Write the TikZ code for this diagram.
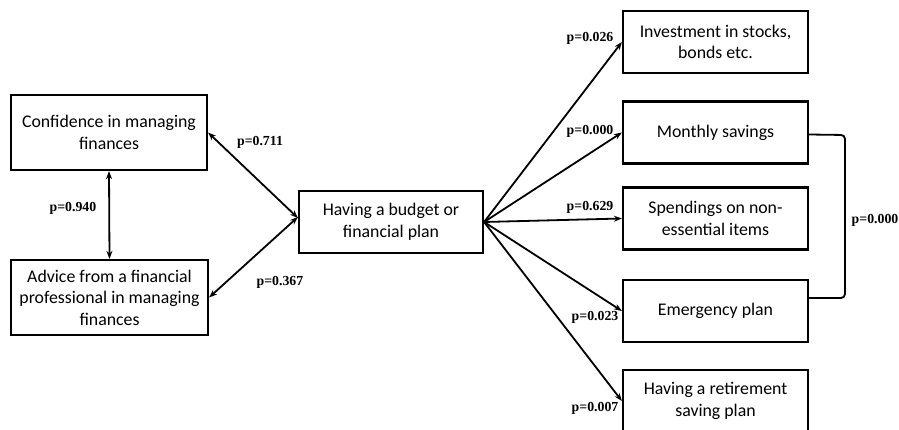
\documentclass[tikz,border=0pt]{standalone}
\usepackage{fontspec}
\setmainfont{Liberation Serif}
\newfontfamily\boxfont{Carlito}
\usetikzlibrary{arrows.meta}
\tikzset{
  varbox/.style={draw, line width=2.2pt, align=center, inner sep=0pt,
    minimum width=185pt, minimum height=62pt,
    font=\boxfont\fontsize{17.8}{21.5}\selectfont},
  link/.style={line width=1.8pt, -{Stealth[length=8pt,width=6pt]}},
  duallink/.style={line width=1.8pt, {Stealth[length=8pt,width=6pt]}-{Stealth[length=8pt,width=6pt]}},
  pval/.style={font=\bfseries\fontsize{13.8}{16}\selectfont, inner sep=0pt}
}
\begin{document}
\begin{tikzpicture}[x=1pt,y=-1pt]
\useasboundingbox (0,0) rectangle (899,430);

% predictors
\node[varbox, minimum width=196pt, minimum height=75pt] (conf) at (109,132.5)
  {Confidence in managing\\finances};
\node[varbox, minimum width=197pt, minimum height=75pt] (advice) at (109.5,297.5)
  {Advice from a financial\\professional in managing\\finances};

% mediator
\node[varbox, minimum width=184pt] (budget) at (391,222)
  {Having a budget or\\financial plan};

% outcomes
\node[varbox] (invest) at (715.5,42)    {Investment in stocks,\\bonds etc.};
\node[varbox] (monthly) at (715.5,132.5) {Monthly savings};
\node[varbox] (spend) at (715.5,218.5)  {Spendings on non-\\essential items};
\node[varbox] (emerg) at (715.5,311)    {Emergency plan};
\node[varbox] (retire) at (715.5,401)   {Having a retirement\\saving plan};

% links between predictors and mediator
\draw[duallink] (conf.south) -- (advice.north);
\draw[duallink] (conf.east) -- ([yshift=4pt]budget.west);
\draw[duallink] (advice.east) -- ([yshift=5pt]budget.west);

% mediator to outcomes
\draw[link] (budget.east) -- (invest.west);
\draw[link] (budget.east) -- (monthly.west);
\draw[link] (budget.east) -- (spend.west);
\draw[link] (budget.east) -- (emerg.west);
\draw[link] (budget.east) -- (retire.west);

% correlation bracket
\coordinate (brTop) at (845,135);
\coordinate (brBot) at (845,298);
\draw[line width=1.8pt, rounded corners=4pt]
  ([yshift=-2pt]monthly.east) -- (brTop) -- (brBot) -- ([yshift=13pt]emerg.east);

% p-values
\node[pval] (p1) at (73,208) {p=0.940};
\node[pval] (p2) at (260,142) {p=0.711};
\node[pval] (p3) at (280,282) {p=0.367};
\node[pval] (p4) at (590,38) {p=0.026};
\node[pval] (p5) at (590,131) {p=0.000};
\node[pval] (p6) at (590,207) {p=0.629};
\node[pval] (p7) at (595,317) {p=0.023};
\node[pval] (p8) at (595,408) {p=0.007};
\node[pval] (p9) at (875,220) {p=0.000};
\end{tikzpicture}
\end{document}
